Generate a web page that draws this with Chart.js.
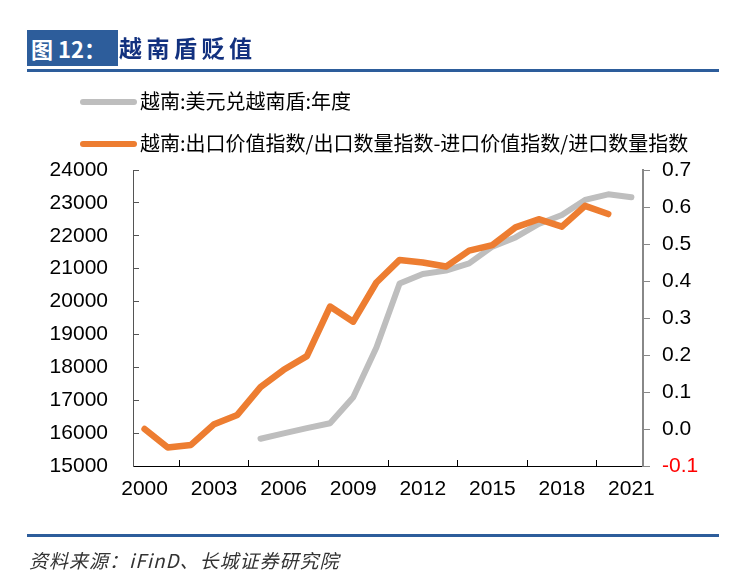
<!DOCTYPE html>
<html>
<head>
<meta charset="utf-8">
<script src="https://cdn.jsdelivr.net/npm/chart.js@4.4.1/dist/chart.umd.min.js"></script>
<style>
  html, body { margin: 0; padding: 0; background: #fff; }
  #wrap { position: relative; width: 742px; height: 583px; overflow: hidden; }
  #chart { position: absolute; left: 0; top: 0; }
  .title-box { position: absolute; left: 27px; top: 30px; width: 91px; height: 36px; background: #2D5D9B;
    color: #fff; font: bold 22px "Noto Sans CJK SC", sans-serif; line-height: 36px; padding-left: 4px; box-sizing: border-box; }
  .title-text { position: absolute; left: 119px; top: 30px; height: 36px; line-height: 36px; color: #12317F;
    font: bold 23px "Noto Sans CJK SC", sans-serif; letter-spacing: 4.5px; }
  .rule { position: absolute; left: 27px; width: 692px; height: 3px; background: #2D5D9B; }
  .legend { position: absolute; left: 80px; height: 24px; line-height: 24px; font: 20px "Noto Sans CJK SC", sans-serif; color: #000; white-space: nowrap; }
  .legend i { display: inline-block; width: 57px; height: 6px; border-radius: 3px; vertical-align: middle; margin-right: 3px; position: relative; top: -2px; }
  .source { position: absolute; left: 29px; top: 546px; font: italic 19px "Noto Sans CJK SC", serif; color: #333; letter-spacing: 1px; }
</style>
</head>
<body>
<div id="wrap">
  <canvas id="chart" width="742" height="583"></canvas>
  <div class="title-box">图 12：</div>
  <div class="title-text">越南盾贬值</div>
  <div class="rule" style="top:69px"></div>
  <div class="legend" style="top:86px"><i style="background:#BEBEBE"></i>越南:美元兑越南盾:年度</div>
  <div class="legend" style="top:128px"><i style="background:#ED7D31"></i>越南:出口价值指数/出口数量指数-进口价值指数/进口数量指数</div>
  <div class="rule" style="top:534px"></div>
  <div class="source">资料来源：iFinD、长城证券研究院</div>
</div>
<script>
// years on the x axis
const years = ['2000', '2001', '2002', '2003', '2004', '2005', '2006', '2007', '2008', '2009', '2010',
               '2011', '2012', '2013', '2014', '2015', '2016', '2017', '2018', '2019', '2020', '2021'];

// USD/VND, yearly (left axis)
const usdVnd = [null, null, null, null, null, 15830, 15990, 16150, 16300, 17090, 18600,
                20550, 20840, 20940, 21160, 21670, 21950, 22360, 22630, 23090, 23260, 23170];

// export price/quantity index minus import price/quantity index (right axis)
const tradeIdx = [0.0, -0.05, -0.043, 0.013, 0.038, 0.113, 0.16, 0.197, 0.331, 0.29, 0.396,
                  0.457, 0.45, 0.439, 0.482, 0.497, 0.545, 0.567, 0.547, 0.603, 0.581, null];

const leftTicks = [15000, 16000, 17000, 18000, 19000, 20000, 21000, 22000, 23000, 24000];
const rightTicks = [-0.1, 0, 0.1, 0.2, 0.3, 0.4, 0.5, 0.6, 0.7];

const tickFont = { family: '"Liberation Sans", Arial, sans-serif', size: 21 };

const ctx = document.getElementById('chart').getContext('2d');
new Chart(ctx, {
    type: 'line',
    data: {
        labels: years,
        datasets: [
            {
                label: '越南:出口价值指数/出口数量指数-进口价值指数/进口数量指数',
                data: tradeIdx,
                yAxisID: 'y1',
                borderColor: '#ED7D31',
                borderWidth: 6.5,
                borderCapStyle: 'round',
                borderJoinStyle: 'round',
                pointRadius: 0,
                tension: 0,
                order: 0
            },
            {
                label: '越南:美元兑越南盾:年度',
                data: usdVnd,
                yAxisID: 'y',
                borderColor: '#BEBEBE',
                borderWidth: 6,
                borderCapStyle: 'round',
                borderJoinStyle: 'round',
                pointRadius: 0,
                tension: 0,
                order: 1
            }
        ]
    },
    options: {
        responsive: false,
        animation: false,
        layout: { padding: { left: 0, right: 0, top: 170, bottom: 77 } },
        plugins: { legend: { display: false }, tooltip: { enabled: false } },
        scales: {
            x: {
                offset: true,
                grid: { offset: true, drawOnChartArea: false, tickLength: -6, color: '#000' },
                border: { color: '#000', width: 1 },
                ticks: {
                    autoSkip: false, maxRotation: 0, padding: 17, color: '#000', font: tickFont,
                    callback: (v, i) => (i % 3 === 0 ? years[i] : null)
                },
                afterFit: s => { s.height = 40; }
            },
            y: {
                position: 'left',
                min: 15000, max: 24000,
                afterBuildTicks: s => { s.ticks = leftTicks.map(v => ({ value: v })); },
                grid: { drawOnChartArea: false, tickLength: -6, color: '#555' },
                border: { color: '#555', width: 1 },
                ticks: { padding: 31, color: '#000', font: tickFont, callback: v => String(v) },
                afterFit: s => { s.width = 133; }
            },
            y1: {
                position: 'right',
                min: -0.1, max: 0.7,
                afterBuildTicks: s => { s.ticks = rightTicks.map(v => ({ value: v })); },
                grid: { drawOnChartArea: false, tickLength: 7, color: '#888' },
                border: { color: '#888', width: 2 },
                ticks: {
                    padding: 12, font: tickFont,
                    color: c => (c.tick && c.tick.value < 0 ? '#FF0000' : '#000'),
                    callback: v => v.toFixed(1)
                },
                afterFit: s => { s.width = 99; }
            }
        }
    }
});
</script>
</body>
</html>
